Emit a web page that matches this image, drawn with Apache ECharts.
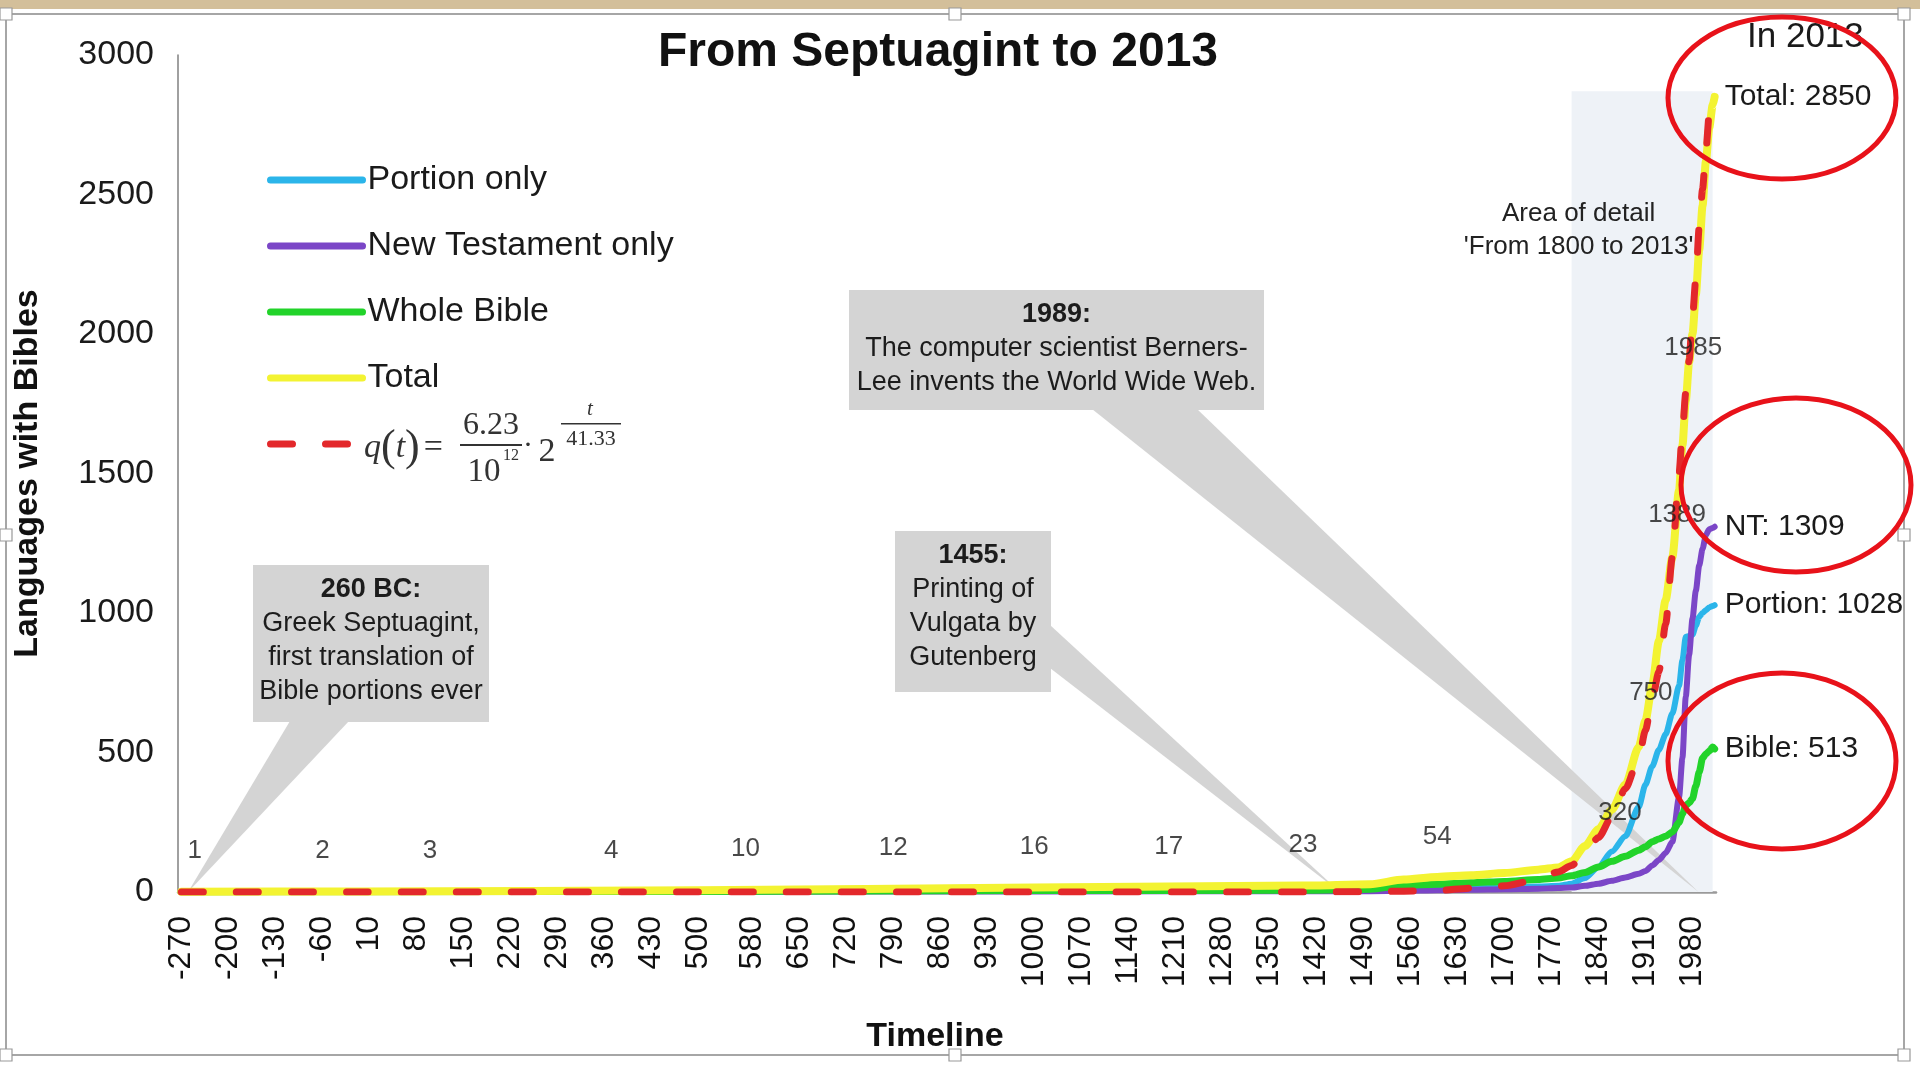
<!DOCTYPE html>
<html>
<head>
<meta charset="utf-8">
<title>From Septuagint to 2013</title>
<script src="https://cdn.jsdelivr.net/npm/echarts@6/dist/echarts.min.js"></script>
<style>
  html, body { margin: 0; padding: 0; background: #fff; }
  #main { width: 1920px; height: 1066px; }
</style>
</head>
<body>
<div id="main"></div>
<script>
// years on the timeline
var years = [-270, 0, 500, 1000, 1400, 1500, 1550, 1600, 1650, 1700, 1750, 1780, 1800, 1820, 1840, 1860, 1880,
  1900, 1910, 1920, 1930, 1940, 1950, 1960, 1965, 1970, 1975, 1980, 1985, 1990, 1995, 2000, 2005, 2010, 2013];

var portionOnly = [1, 1, 3, 8, 12, 13, 14, 16, 17, 18, 20, 22, 30, 50, 90, 145, 200,
  305, 385, 450, 510, 565, 640, 740, 830, 915, 918, 922, 955, 986, 1000, 1010, 1020, 1025, 1028];
var ntOnly = [0, 0, 1, 2, 3, 3, 4, 6, 8, 10, 12, 14, 16, 22, 30, 40, 52,
  65, 75, 95, 115, 140, 180, 340, 480, 700, 850, 980, 1080, 1170, 1230, 1280, 1300, 1305, 1309];
var wholeBible = [0, 1, 2, 5, 6, 10, 24, 28, 33, 38, 45, 50, 58, 70, 90, 110, 128,
  150, 162, 180, 190, 200, 215, 250, 280, 310, 320, 335, 380, 430, 480, 495, 505, 520, 513];
var total = [1, 2, 6, 16, 23, 28, 45, 54, 60, 68, 80, 88, 110, 165, 225, 295, 385,
  520, 615, 740, 900, 1046, 1200, 1440, 1600, 1760, 1900, 2000, 2140, 2300, 2460, 2620, 2740, 2820, 2850];
// red dashed fit q(t), values taken from the drawn curve
var fitted = [0, 0, 0, 0, 0, 1, 3, 5, 14, 22, 45, 72, 95, 140, 195, 270, 370,
  480, 580, 690, 790, 960, 1200, 1500, 1650, 1790, 1906, 2060, 2200, 2384, 2520, 2660, 2790, 2835, 2850];

// numbers written along the total curve
var milestoneYears = [-250, -60, 100, 370, 570, 790, 1000, 1200, 1400, 1600, 1872, 1918, 1957, 1981];
var milestoneValues = [1, 2, 3, 4, 10, 12, 16, 17, 23, 54, 320, 750, 1389, 1985];

var xTickLabels = [-270, -200, -130, -60, 10, 80, 150, 220, 290, 360, 430, 500, 580, 650, 720, 790, 860, 930,
  1000, 1070, 1140, 1210, 1280, 1350, 1420, 1490, 1560, 1630, 1700, 1770, 1840, 1910, 1980];

var calloutYears = [-260, 1455, 1989];
var calloutTitles = ['260 BC:', '1455:', '1989:'];
var calloutTexts = [
  'Greek Septuagint,\nfirst translation of\nBible portions ever',
  'Printing of\nVulgata by\nGutenberg',
  'The computer scientist Berners-\nLee invents the World Wide Web.'
];

var font = 'Liberation Sans, Arial, Helvetica, sans-serif';
var serif = 'Liberation Serif, Times New Roman, serif';

// where the grey callout boxes sit (pixels) and where their pointer leaves the box
var calloutBoxes = [
  { x: 253, y: 565, w: 236, h: 157, base: [[290, 721], [349, 721]] },
  { x: 895, y: 531, w: 156, h: 161, base: [[1050, 625], [1050, 668]] },
  { x: 849, y: 290, w: 415, h: 120, base: [[1092, 409], [1197, 409]] }
];

function createChart() {
  var chartDom = document.getElementById('main');
  var myChart = echarts.init(chartDom);
  var option;

  function pairs(vals) {
    return years.map(function (y, i) {
      return [y, vals[i]];
    });
  }

  function lineSeries(name, vals, color, width, prefix, extra) {
    var s = {
      name: name,
      type: 'line',
      data: pairs(vals),
      symbol: 'none',
      smooth: 0.25,
      smoothMonotone: 'x',
      z: 2,
      lineStyle: { color: color, width: width, cap: 'round', join: 'round' },
      itemStyle: { color: color }
    };
    if (prefix) {
      s.endLabel = {
        show: true,
        distance: 10,
        fontSize: 30,
        fontFamily: font,
        color: '#1a1a1a',
        formatter: function (p) {
          return prefix + p.value[1];
        }
      };
    }
    return Object.assign(s, extra || {});
  }

  function renderCallout(params, api) {
    var i = params.dataIndex;
    var box = calloutBoxes[i];
    var tip = api.coord([api.value(0), api.value(1)]);
    return {
      type: 'group',
      children: [
        {
          type: 'polygon',
          shape: { points: [box.base[0], box.base[1], tip] },
          style: { fill: '#d4d4d4' }
        },
        {
          type: 'rect',
          shape: { x: box.x, y: box.y, width: box.w, height: box.h },
          style: { fill: '#d4d4d4' }
        },
        {
          type: 'text',
          x: box.x + box.w / 2,
          y: box.y + 8,
          style: {
            text: '{b|' + calloutTitles[i] + '}\n' + calloutTexts[i],
            align: 'center',
            textAlign: 'center',
            verticalAlign: 'top',
            textVerticalAlign: 'top',
            fontSize: 27,
            lineHeight: 34,
            fontFamily: font,
            fill: '#1c1c1c',
            rich: {
              b: { fontWeight: 'bold', fontSize: 27, lineHeight: 34, fontFamily: font, fill: '#1c1c1c' }
            }
          }
        }
      ]
    };
  }

  // little selection handles around the picture frame
  var handlePoints = [[6, 14], [955, 14], [1904, 14], [6, 535], [1904, 535], [6, 1055], [955, 1055], [1904, 1055]];
  var handles = handlePoints.map(function (p) {
    return {
      type: 'rect',
      shape: { x: p[0] - 6, y: p[1] - 6, width: 12, height: 12 },
      style: { fill: '#fff', stroke: '#999', lineWidth: 1.2 },
      z: 50
    };
  });

  var ink = '#333';
  function formulaText(x, y, text, size, extra) {
    return {
      type: 'text', x: x, y: y,
      style: Object.assign({
        text: text, font: size + 'px ' + serif, fill: ink,
        align: 'center', textAlign: 'center', verticalAlign: 'middle', textVerticalAlign: 'middle'
      }, extra || {})
    };
  }
  var formula = [
    {
      type: 'text', x: 364, y: 448,
      style: {
        text: '{i|q}{p|(}{i|t}{p|)}{r|=}',
        verticalAlign: 'middle', textVerticalAlign: 'middle',
        rich: {
          i: { fontFamily: serif, fontStyle: 'italic', fontSize: 34, fill: ink },
          p: { fontFamily: serif, fontSize: 44, fill: ink },
          r: { fontFamily: serif, fontSize: 34, fill: ink, padding: [0, 0, 0, 4] }
        }
      }
    },
    formulaText(491, 426, '6.23', 32),
    { type: 'rect', shape: { x: 460, y: 444, width: 62, height: 2 }, style: { fill: ink } },
    formulaText(484, 472, '10', 33),
    formulaText(503, 456, '12', 16, { align: 'left', textAlign: 'left' }),
    formulaText(528, 446, '·', 30),
    formulaText(547, 452, '2', 34),
    formulaText(590, 409, 't', 21, { font: 'italic 21px ' + serif }),
    { type: 'rect', shape: { x: 561, y: 423, width: 60, height: 1.5 }, style: { fill: ink } },
    formulaText(591, 439, '41.33', 22)
  ];

  // red hand drawn rings
  var rings = [[1782, 98, 114, 81], [1796, 485, 115, 87], [1782, 761, 114, 88]].map(function (e) {
    return {
      type: 'ellipse',
      shape: { cx: e[0], cy: e[1], rx: e[2], ry: e[3] },
      style: { fill: null, stroke: '#e8121a', lineWidth: 5 },
      z: 100
    };
  });

  function plain(v) {
    return String(v);
  }

  option = {
    animation: false,
    backgroundColor: '#fff',
    textStyle: { fontFamily: font },
    title: [
      {
        text: 'From Septuagint to 2013',
        left: 933,
        textAlign: 'center',
        top: 24,
        textStyle: { fontSize: 48, fontWeight: 'bold', color: '#111', fontFamily: font }
      },
      {
        text: 'In 2013',
        left: 1742,
        top: 15,
        textStyle: { fontSize: 35, fontWeight: 'normal', color: '#1a1a1a', fontFamily: font }
      }
    ],
    legend: {
      data: ['Portion only', 'New Testament only', 'Whole Bible', 'Total', 'q(t)'],
      orient: 'vertical',
      left: 267,
      top: 160,
      padding: 0,
      itemWidth: 92,
      itemHeight: 14,
      itemGap: 26,
      selectedMode: false,
      lineStyle: { width: 7 },
      itemStyle: { opacity: 0 },
      textStyle: { fontSize: 34, lineHeight: 40, color: '#1a1a1a', fontFamily: font },
      formatter: function (name) {
        return name === 'q(t)' ? ' ' : name;
      }
    },
    grid: { left: 178, right: 204, top: 55, bottom: 174 },
    xAxis: {
      type: 'value',
      min: -275,
      max: 2015,
      name: 'Timeline',
      nameLocation: 'middle',
      nameGap: 128,
      nameTextStyle: { fontSize: 34, fontWeight: 'bold', color: '#111', fontFamily: font, padding: [0, 24, 0, 0] },
      axisLine: { show: true, lineStyle: { color: '#9a9a9a', width: 2.5 } },
      axisTick: { show: false },
      splitLine: { show: false },
      axisLabel: {
        customValues: xTickLabels,
        formatter: plain,
        rotate: 90,
        margin: 24,
        fontSize: 32,
        color: '#111',
        fontFamily: font
      }
    },
    yAxis: {
      type: 'value',
      min: 0,
      max: 3000,
      interval: 500,
      name: 'Languages with Bibles',
      nameLocation: 'middle',
      nameGap: 133,
      nameTextStyle: { fontSize: 34, fontWeight: 'bold', color: '#111', fontFamily: font },
      axisLine: { show: true, onZero: false, lineStyle: { color: '#808080', width: 1.5 } },
      axisTick: { show: false },
      splitLine: { show: false },
      axisLabel: { margin: 24, fontSize: 34, color: '#1a1a1a', fontFamily: font, formatter: plain }
    },
    graphic: [
      { type: 'rect', shape: { x: 0, y: 0, width: 1920, height: 9 }, style: { fill: '#d3bf9a' }, z: 40 },
      { type: 'rect', shape: { x: 6, y: 14, width: 1898, height: 1041 }, style: { fill: null, stroke: '#a6a6a6', lineWidth: 2 }, z: 40 }
    ].concat(handles, formula, rings),
    series: [
      {
        // shaded "area of detail"
        type: 'line',
        data: [],
        z: 0,
        silent: true,
        markArea: {
          silent: true,
          itemStyle: { color: '#eef2f7' },
          label: {
            show: true,
            position: [7, 139],
            align: 'center',
            verticalAlign: 'middle',
            fontSize: 26,
            lineHeight: 33,
            color: '#222',
            fontFamily: font
          },
          data: [[
            { name: "Area of detail\n'From 1800 to 2013'", xAxis: 1800, yAxis: 2870 },
            { xAxis: 2010, yAxis: 0 }
          ]]
        }
      },
      {
        type: 'custom',
        z: 1.5,
        silent: true,
        renderItem: renderCallout,
        encode: { x: 0, y: 1 },
        data: calloutYears.map(function (y) {
          return [y, 0];
        })
      },
      lineSeries('Portion only', portionOnly, '#2bb5ea', 6, 'Portion: '),
      lineSeries('New Testament only', ntOnly, '#7b46c7', 6, 'NT: '),
      lineSeries('Whole Bible', wholeBible, '#22d32a', 7, 'Bible: '),
      lineSeries('Total', total, '#f3f332', 8, 'Total: '),
      lineSeries('q(t)', fitted, '#e3282b', 7, null, {
        lineStyle: { color: '#e3282b', width: 7, type: [22, 33], cap: 'round' }
      }),
      {
        type: 'scatter',
        z: 3,
        silent: true,
        symbolSize: 1,
        itemStyle: { color: 'transparent' },
        label: {
          show: true,
          distance: 27,
          fontSize: 26,
          color: '#1a1a1a',
          fontFamily: font,
          formatter: function (p) {
            return p.value[1];
          }
        },
        data: milestoneYears.map(function (y, i) {
          var low = milestoneValues[i] < 100;
          return {
            value: [y, milestoneValues[i]],
            label: { position: low ? 'top' : 'inside', offset: low ? [0, 0] : [0, 10] }
          };
        })
      }
    ]
  };

  option && myChart.setOption(option);
}

createChart();
</script>
</body>
</html>
